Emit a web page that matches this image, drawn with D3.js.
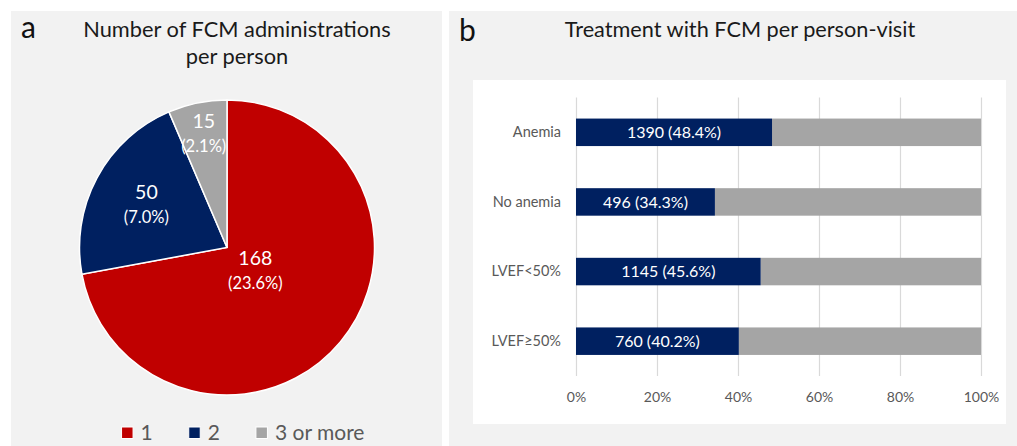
<!DOCTYPE html>
<html>
<head>
<meta charset="utf-8">
<script src="https://cdn.jsdelivr.net/npm/d3@7"></script>
<style>
  body { margin: 0; background: #fff; }
  svg { display: block; font-family: Lato, "Open Sans", sans-serif; }
</style>
</head>
<body>
<svg id="chart"></svg>
<script>
// panel a data
var pieGroups = ["1", "2", "3 or more"];
var pieCounts = [168, 50, 15];
var piePercents = [23.6, 7.0, 2.1];

// panel b data
var barCategories = ["Anemia", "No anemia", "LVEF<50%", "LVEF\u226550%"];
var barCounts = [1390, 496, 1145, 760];
var barPercents = [48.4, 34.3, 45.6, 40.2];
var xTicks = [0, 20, 40, 60, 80, 100];

var W = 1017, H = 446;
var red = "#C00000", navy = "#002060", grey = "#A5A5A5", panelBg = "#F2F2F2";

var svg = d3.select("#chart").attr("width", W).attr("height", H);
svg.append("rect").attr("width", W).attr("height", H).attr("fill", "#fff");

// ---------- panel a ----------
svg.append("rect").attr("x", 11).attr("y", 11).attr("width", 431).attr("height", H - 11).attr("fill", panelBg);

svg.append("text").attr("x", 21).attr("y", 38).attr("font-size", 30).attr("fill", "#111").text("a");
var titleA = svg.append("text").attr("x", 237).attr("text-anchor", "middle").attr("font-size", 21.8).attr("fill", "#1a1a1a");
titleA.append("tspan").attr("x", 237).attr("y", 37).text("Number of FCM administrations");
titleA.append("tspan").attr("x", 237).attr("y", 64).text("per person");

var cx = 227, cy = 247.5, R = 147.5;
var pieColor = d3.scaleOrdinal().domain(pieGroups).range([red, navy, grey]);
var pie = d3.pie().sort(null).value(function(d) { return d.count; });
var pieData = pieGroups.map(function(g, i) { return {group: g, count: pieCounts[i], pct: piePercents[i]}; });
var arcs = pie(pieData);
var arc = d3.arc().innerRadius(0).outerRadius(R);

var gPie = svg.append("g").attr("transform", "translate(" + cx + "," + cy + ")");
gPie.selectAll("path")
  .data(arcs)
  .enter().append("path")
  .attr("d", arc)
  .attr("fill", function(d) { return pieColor(d.data.group); })
  .attr("stroke", "#fff")
  .attr("stroke-width", 1.5);

// label radius as share of R, per slice (Excel placed them by hand)
var labelR = [0.25, 0.62, 0.785];
var labels = gPie.selectAll("g.lbl")
  .data(arcs)
  .enter().append("g")
  .attr("class", "lbl")
  .attr("transform", function(d, i) {
    var a = (d.startAngle + d.endAngle) / 2, r = R * labelR[i];
    return "translate(" + (r * Math.sin(a)) + "," + (-r * Math.cos(a)) + ")";
  });
labels.append("text")
  .attr("text-anchor", "middle").attr("y", -12.5).attr("dy", "0.35em")
  .attr("font-size", 19.5).attr("fill", "#fff")
  .text(function(d) { return d.data.count; });
labels.append("text")
  .attr("text-anchor", "middle").attr("y", 12.5).attr("dy", "0.35em")
  .attr("font-size", 16.5).attr("fill", "#fff")
  .text(function(d) { return "(" + d.data.pct.toFixed(1) + "%)"; });

// legend
var legend = svg.append("g");
var lx = 0;
pieGroups.forEach(function(g, i) {
  var item = legend.append("g").attr("transform", "translate(" + lx + ",0)");
  item.append("rect").attr("x", 0).attr("y", -6).attr("width", 11.5).attr("height", 11.5)
    .attr("fill", pieColor(g)).attr("stroke", "#fff").attr("stroke-width", 1);
  var t = item.append("text").attr("x", 19).attr("dy", "0.35em").attr("font-size", 21)
    .attr("fill", "#595959").text(g);
  lx += 19 + t.node().getComputedTextLength() + 36;
});
lx -= 36;
legend.attr("transform", "translate(" + (243 - lx / 2) + ",433)");

// ---------- panel b ----------
svg.append("rect").attr("x", 449).attr("y", 11).attr("width", W - 449).attr("height", H - 11).attr("fill", panelBg);
svg.append("text").attr("x", 459).attr("y", 41).attr("font-size", 30).attr("fill", "#111").text("b");
svg.append("text").attr("x", 740).attr("y", 37).attr("text-anchor", "middle").attr("font-size", 21.7)
  .attr("fill", "#1a1a1a").text("Treatment with FCM per person-visit");

svg.append("rect").attr("x", 473).attr("y", 80).attr("width", 533).attr("height", 344).attr("fill", "#fff");

var plotTop = 97.5, plotBottom = 376;
var x = d3.scaleLinear().domain([0, 100]).range([576, 981]);
var y = d3.scaleBand().domain(barCategories).range([plotTop, plotBottom])
  .paddingInner(0.605).paddingOuter(0.3025);

var xAxis = svg.append("g")
  .attr("transform", "translate(0," + plotBottom + ")")
  .call(d3.axisBottom(x).tickValues(xTicks).tickSize(-(plotBottom - plotTop)).tickPadding(16)
    .tickFormat(function(d) { return d + "%"; }));
xAxis.select(".domain").remove();
xAxis.selectAll("line").attr("stroke", "#D9D9D9").attr("stroke-width", 1.2);
xAxis.selectAll("text").attr("fill", "#595959").attr("font-size", 14).style("font-family", "Lato, sans-serif");

var yAxis = svg.append("g")
  .attr("transform", "translate(576,0)")
  .call(d3.axisLeft(y).tickSize(0).tickPadding(15));
yAxis.select(".domain").remove();
yAxis.selectAll("text").attr("fill", "#595959").attr("font-size", 14.5).style("font-family", "Lato, sans-serif");

var barData = barCategories.map(function(c, i) { return {cat: c, count: barCounts[i], pct: barPercents[i]}; });

var rows = svg.selectAll("g.row")
  .data(barData)
  .enter().append("g").attr("class", "row");
rows.append("rect")
  .attr("x", function(d) { return x(d.pct); })
  .attr("y", function(d) { return y(d.cat); })
  .attr("width", function(d) { return x(100) - x(d.pct); })
  .attr("height", y.bandwidth())
  .attr("fill", grey);
rows.append("rect")
  .attr("x", x(0))
  .attr("y", function(d) { return y(d.cat); })
  .attr("width", function(d) { return x(d.pct) - x(0); })
  .attr("height", y.bandwidth())
  .attr("fill", navy);
rows.append("text")
  .attr("x", function(d) { return (x(0) + x(d.pct)) / 2; })
  .attr("y", function(d) { return y(d.cat) + y.bandwidth() / 2; })
  .attr("dy", "0.35em")
  .attr("text-anchor", "middle")
  .attr("font-size", 16)
  .attr("fill", "#fff")
  .text(function(d) { return d.count + " (" + d.pct.toFixed(1) + "%)"; });
</script>
</body>
</html>
